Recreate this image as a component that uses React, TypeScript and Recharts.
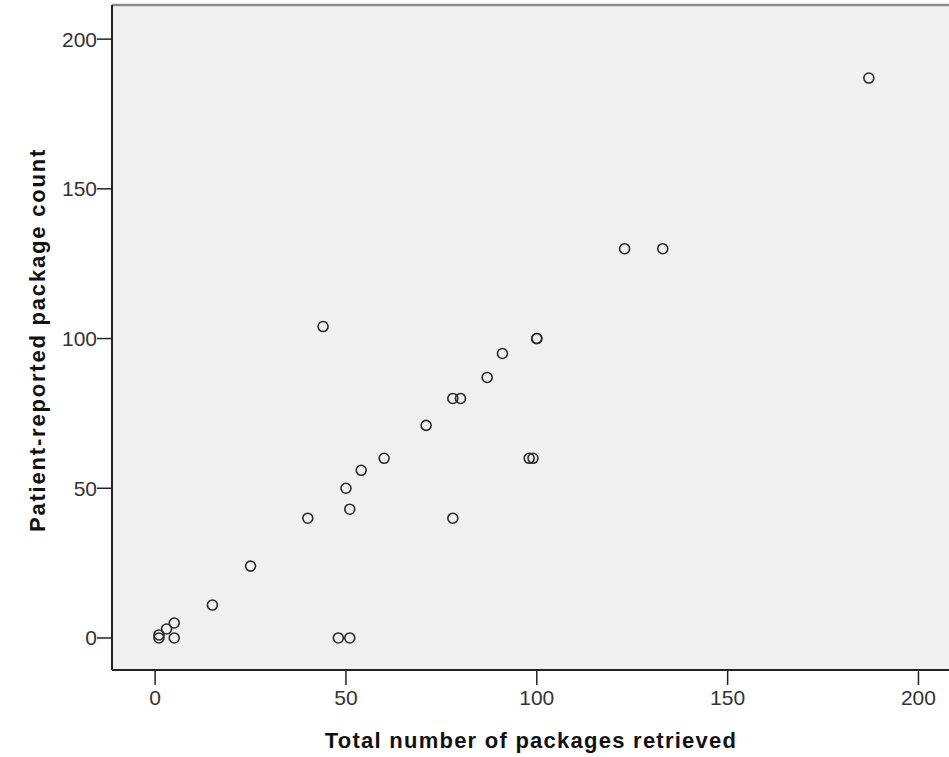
import {
  ScatterChart,
  Scatter,
  XAxis,
  YAxis,
  CartesianGrid,
  ReferenceLine,
} from "recharts";

// total packages retrieved (x) vs patient-reported count (y)
const retrieved = [187, 123, 133, 44, 100, 100, 91, 87, 78, 80, 71, 60, 98, 99, 54, 50, 51, 40, 78, 25, 15, 5, 3, 1, 1, 5, 48, 51];
const reported = [187, 130, 130, 104, 100, 100, 95, 87, 80, 80, 71, 60, 60, 60, 56, 50, 43, 40, 40, 24, 11, 5, 3, 1, 0, 0, 0, 0];
const xTicks = [0, 50, 100, 150, 200];
const yTicks = [0, 50, 100, 150, 200];

const xTitle = "Total number of packages retrieved";
const yTitle = "Patient-reported package count";

const X_DOMAIN: [number, number] = [-11.3, 208];
const Y_DOMAIN: [number, number] = [-10.7, 211.4];

const points = retrieved.map((x, i) => ({ x, y: reported[i] }));

const FONT = "'Liberation Sans', Arial, sans-serif";
const tickStyle = { fontSize: 21, fill: "#333", fontFamily: FONT };
const titleStyle = { fontSize: 22, fontWeight: 700, fill: "#111", fontFamily: FONT };

const ring = (p: any) => (
  <circle cx={p.cx} cy={p.cy} r={5} fill="none" stroke="#2a2a2a" strokeWidth={1.6} />
);

export default function App() {
  return (
    <div style={{ position: "absolute", left: 0, top: 0, background: "#fff" }}>
      <ScatterChart width={949} height={757} margin={{ top: 5, right: 0, bottom: 0, left: 0 }}>
        <CartesianGrid fill="#f0f0f0" stroke="none" horizontal={false} vertical={false} />
        <XAxis
          type="number"
          dataKey="x"
          domain={X_DOMAIN}
          ticks={xTicks}
          allowDataOverflow
          height={87}
          tickSize={15}
          tickMargin={5}
          tick={tickStyle}
          axisLine={{ stroke: "#222", strokeWidth: 2 }}
          tickLine={{ stroke: "#222", strokeWidth: 1.5 }}
          label={{
            content: () => (
              <text x={531} y={748} textAnchor="middle" style={{ ...titleStyle, letterSpacing: 1.25 }}>
                {xTitle}
              </text>
            ),
          }}
        />
        <YAxis
          type="number"
          dataKey="y"
          domain={Y_DOMAIN}
          ticks={yTicks}
          allowDataOverflow
          width={112}
          tickSize={15}
          tickMargin={0}
          tick={tickStyle}
          axisLine={{ stroke: "#222", strokeWidth: 2 }}
          tickLine={{ stroke: "#222", strokeWidth: 1.5 }}
          label={{
            content: () => (
              <text
                x={37}
                y={340}
                transform="rotate(-90 37 340)"
                textAnchor="middle"
                dominantBaseline="central"
                style={{ ...titleStyle, letterSpacing: 1.8 }}
              >
                {yTitle}
              </text>
            ),
          }}
        />
        <ReferenceLine y={Y_DOMAIN[1]} stroke="#8a8a8a" strokeWidth={2.5} ifOverflow="visible" />
        <Scatter data={points} shape={ring} isAnimationActive={false} />
      </ScatterChart>
    </div>
  );
}
